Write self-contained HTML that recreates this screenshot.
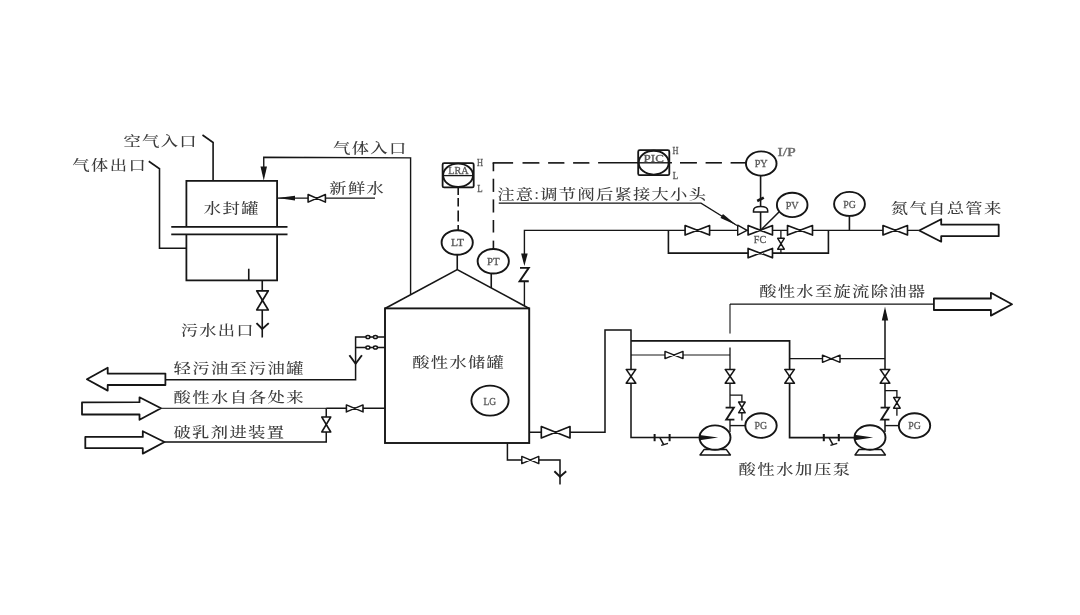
<!DOCTYPE html>
<html lang="zh-CN">
<head>
<meta charset="utf-8">
<title>酸性水储罐流程图</title>
<style>
html,body{margin:0;padding:0;background:#fff;}
body{width:1080px;height:615px;overflow:hidden;}
svg{display:block;}
text.c{font-family:"Liberation Serif","Noto Serif CJK SC",serif;font-weight:500;}
text.l{font-family:"Liberation Serif","Noto Serif CJK SC",serif;font-weight:400;}
</style>
</head>
<body>
<svg width="1080" height="615" viewBox="0 0 1080 615">
<defs><filter id="soft" x="0" y="0" width="1080" height="615" filterUnits="userSpaceOnUse"><feGaussianBlur stdDeviation="0.55"/></filter></defs>
<rect x="0" y="0" width="1080" height="615" fill="#ffffff"/>
<g filter="url(#soft)">
<polyline points="186.40,226.90 186.40,180.80 277.10,180.80 277.10,226.90" fill="none" stroke="#141414" stroke-width="1.8" stroke-linejoin="miter" />
<polyline points="186.40,234.40 186.40,280.40 277.10,280.40 277.10,234.40" fill="none" stroke="#141414" stroke-width="1.8" stroke-linejoin="miter" />
<polyline points="171.25,226.90 287.50,226.90" fill="none" stroke="#141414" stroke-width="1.6" stroke-linejoin="miter" />
<polyline points="171.25,234.40 287.50,234.40" fill="none" stroke="#141414" stroke-width="1.6" stroke-linejoin="miter" />
<polyline points="248.75,268.75 248.75,280.40" fill="none" stroke="#141414" stroke-width="1.6" stroke-linejoin="miter" />
<polyline points="202.50,135.00 213.10,142.50 213.10,180.80" fill="none" stroke="#141414" stroke-width="1.6" stroke-linejoin="miter" />
<polyline points="148.75,161.25 159.50,168.75 159.50,248.25 186.40,248.25" fill="none" stroke="#141414" stroke-width="1.6" stroke-linejoin="miter" />
<polyline points="263.75,170.00 263.75,157.30 410.60,157.90 410.60,294.50" fill="none" stroke="#141414" stroke-width="1.4" stroke-linejoin="miter" />
<polygon points="263.75,180.60 260.50,166.60 267.00,166.60" fill="#141414" stroke="none"/>
<polyline points="278.00,198.10 375.00,198.10" fill="none" stroke="#141414" stroke-width="1.3" stroke-linejoin="miter" />
<polygon points="277.60,198.10 295.00,195.80 295.00,200.40" fill="#141414" stroke="none"/>
<polygon points="308.10,194.50 325.40,202.10 325.40,194.50 308.10,202.10" fill="#fff" stroke="#141414" stroke-width="1.55" stroke-linejoin="round"/>
<polyline points="262.25,280.40 262.25,337.50" fill="none" stroke="#141414" stroke-width="1.6" stroke-linejoin="miter" />
<polygon points="256.70,290.80 268.30,310.00 256.70,310.00 268.30,290.80" fill="#fff" stroke="#141414" stroke-width="1.65" stroke-linejoin="round"/>
<polyline points="256.50,323.10 262.25,329.00 268.75,323.10" fill="none" stroke="#141414" stroke-width="1.9" stroke-linejoin="miter" />
<polygon points="86.90,379.30 107.70,367.70 107.70,373.60 165.40,373.60 165.40,385.00 107.70,385.00 107.70,390.60" fill="#fff" stroke="#141414" stroke-width="1.8" stroke-linejoin="round"/>
<polyline points="165.50,379.80 355.60,379.80 355.60,337.00 385.00,337.00" fill="none" stroke="#141414" stroke-width="1.5" stroke-linejoin="miter" />
<polyline points="355.60,347.50 385.00,347.50" fill="none" stroke="#141414" stroke-width="1.5" stroke-linejoin="miter" />
<polyline points="349.40,355.25 355.60,363.75 361.90,355.25" fill="none" stroke="#141414" stroke-width="1.9" stroke-linejoin="miter" />
<ellipse cx="367.90" cy="337.00" rx="2.00" ry="1.60" fill="#fff" stroke="#141414" stroke-width="1.5"/>
<ellipse cx="375.40" cy="337.00" rx="2.00" ry="1.60" fill="#fff" stroke="#141414" stroke-width="1.5"/>
<ellipse cx="367.90" cy="347.50" rx="2.00" ry="1.60" fill="#fff" stroke="#141414" stroke-width="1.5"/>
<ellipse cx="375.40" cy="347.50" rx="2.00" ry="1.60" fill="#fff" stroke="#141414" stroke-width="1.5"/>
<polygon points="82.00,402.40 139.50,402.20 139.50,397.30 161.00,408.30 139.50,419.80 139.50,414.30 82.00,414.50" fill="#fff" stroke="#141414" stroke-width="1.8" stroke-linejoin="round"/>
<polyline points="161.25,408.30 326.25,408.30" fill="none" stroke="#141414" stroke-width="1.0" stroke-linejoin="miter" />
<polyline points="326.25,408.30 385.00,408.30" fill="none" stroke="#141414" stroke-width="1.4" stroke-linejoin="miter" />
<polygon points="346.40,404.90 363.00,411.90 363.00,404.90 346.40,411.90" fill="#fff" stroke="#141414" stroke-width="1.55" stroke-linejoin="round"/>
<polyline points="164.50,442.00 326.25,442.00 326.25,408.30" fill="none" stroke="#141414" stroke-width="1.5" stroke-linejoin="miter" />
<polygon points="321.75,417.00 330.75,432.00 321.75,432.00 330.75,417.00" fill="#fff" stroke="#141414" stroke-width="1.55" stroke-linejoin="round"/>
<polygon points="85.30,436.90 142.80,436.90 142.80,431.20 164.50,442.00 142.80,453.60 142.80,448.20 85.30,448.20" fill="#fff" stroke="#141414" stroke-width="1.8" stroke-linejoin="round"/>
<rect x="385.00" y="308.40" width="144.20" height="134.60" rx="0" fill="none" stroke="#141414" stroke-width="1.9"/>
<polyline points="385.00,308.40 457.25,269.60 529.20,308.40" fill="none" stroke="#141414" stroke-width="1.7" stroke-linejoin="miter" />
<ellipse cx="490.00" cy="400.60" rx="18.60" ry="15.00" fill="#fff" stroke="#141414" stroke-width="1.9"/>
<polyline points="457.25,255.00 457.25,269.60" fill="none" stroke="#141414" stroke-width="1.6" stroke-linejoin="miter" />
<ellipse cx="457.20" cy="242.50" rx="15.60" ry="12.30" fill="#fff" stroke="#141414" stroke-width="1.9"/>
<polyline points="491.25,273.50 491.25,288.00" fill="none" stroke="#141414" stroke-width="1.6" stroke-linejoin="miter" />
<ellipse cx="493.25" cy="261.25" rx="15.60" ry="12.30" fill="#fff" stroke="#141414" stroke-width="1.9"/>
<rect x="442.60" y="163.20" width="31.10" height="24.20" rx="1.5" fill="#fff" stroke="#141414" stroke-width="1.8"/>
<ellipse cx="458.10" cy="175.30" rx="15.00" ry="11.70" fill="none" stroke="#141414" stroke-width="1.9"/>
<polyline points="443.00,175.60 473.50,175.60" fill="none" stroke="#141414" stroke-width="1.3" stroke-linejoin="miter" />
<polyline points="458.20,188.00 458.20,195.00" fill="none" stroke="#141414" stroke-width="1.6" stroke-linejoin="miter" />
<polyline points="458.20,198.10 458.20,206.50" fill="none" stroke="#141414" stroke-width="1.6" stroke-linejoin="miter" />
<polyline points="458.20,210.60 458.20,221.50" fill="none" stroke="#141414" stroke-width="1.6" stroke-linejoin="miter" />
<polyline points="458.20,225.00 458.20,230.30" fill="none" stroke="#141414" stroke-width="1.6" stroke-linejoin="miter" />
<polyline points="493.40,162.90 493.40,171.25" fill="none" stroke="#141414" stroke-width="1.6" stroke-linejoin="miter" />
<polyline points="493.40,178.75 493.40,191.90" fill="none" stroke="#141414" stroke-width="1.6" stroke-linejoin="miter" />
<polyline points="493.40,199.40 493.40,212.50" fill="none" stroke="#141414" stroke-width="1.6" stroke-linejoin="miter" />
<polyline points="493.40,220.00 493.40,232.50" fill="none" stroke="#141414" stroke-width="1.6" stroke-linejoin="miter" />
<polyline points="493.40,240.60 493.40,249.00" fill="none" stroke="#141414" stroke-width="1.6" stroke-linejoin="miter" />
<polyline points="492.60,162.90 513.10,162.90" fill="none" stroke="#141414" stroke-width="1.6" stroke-linejoin="miter" />
<polyline points="522.50,162.90 539.40,162.90" fill="none" stroke="#141414" stroke-width="1.6" stroke-linejoin="miter" />
<polyline points="548.10,162.90 564.40,162.90" fill="none" stroke="#141414" stroke-width="1.6" stroke-linejoin="miter" />
<polyline points="573.10,162.90 589.40,162.90" fill="none" stroke="#141414" stroke-width="1.6" stroke-linejoin="miter" />
<polyline points="598.10,162.80 671.90,162.80" fill="none" stroke="#141414" stroke-width="1.6" stroke-linejoin="miter" />
<polyline points="680.00,162.80 696.90,162.80" fill="none" stroke="#141414" stroke-width="1.6" stroke-linejoin="miter" />
<polyline points="705.60,162.80 721.90,162.80" fill="none" stroke="#141414" stroke-width="1.6" stroke-linejoin="miter" />
<polyline points="730.60,162.80 746.00,162.80" fill="none" stroke="#141414" stroke-width="1.6" stroke-linejoin="miter" />
<rect x="638.20" y="150.20" width="31.10" height="25.00" rx="1.5" fill="#fff" stroke="#141414" stroke-width="1.8"/>
<ellipse cx="653.70" cy="162.70" rx="15.00" ry="11.90" fill="none" stroke="#141414" stroke-width="1.9"/>
<polyline points="638.00,162.80 670.00,162.80" fill="none" stroke="#141414" stroke-width="1.4" stroke-linejoin="miter" />
<polyline points="760.60,175.00 760.60,230.30" fill="none" stroke="#141414" stroke-width="1.6" stroke-linejoin="miter" />
<ellipse cx="761.25" cy="163.50" rx="15.30" ry="12.10" fill="#fff" stroke="#141414" stroke-width="1.9"/>
<polyline points="524.40,256.00 524.40,230.40 737.50,230.40" fill="none" stroke="#141414" stroke-width="1.4" stroke-linejoin="miter" />
<polygon points="524.40,266.00 521.10,253.50 527.70,253.50" fill="#141414" stroke="none"/>
<polyline points="520.00,267.90 528.75,267.90 519.60,281.25 528.75,281.25" fill="none" stroke="#141414" stroke-width="1.9" stroke-linejoin="miter" />
<polyline points="524.40,281.25 524.40,306.00" fill="none" stroke="#141414" stroke-width="1.4" stroke-linejoin="miter" />
<polyline points="668.40,230.40 668.40,253.10 828.40,253.10 828.40,230.40" fill="none" stroke="#141414" stroke-width="1.6" stroke-linejoin="miter" />
<polyline points="737.50,230.40 918.75,230.40" fill="none" stroke="#141414" stroke-width="1.4" stroke-linejoin="miter" />
<polygon points="685.10,225.55 709.60,235.05 709.60,225.55 685.10,235.05" fill="#fff" stroke="#141414" stroke-width="1.65" stroke-linejoin="round"/>
<polyline points="498.75,203.20 701.00,203.20 737.00,225.60" fill="none" stroke="#141414" stroke-width="1.2" stroke-linejoin="miter" />
<polygon points="736.60,225.30 720.53,218.01 722.96,214.10" fill="#141414" stroke="none"/>
<polygon points="737.70,225.20 747.00,230.30 737.70,235.20" fill="#fff" stroke="#141414" stroke-width="1.4" stroke-linejoin="round"/>
<polygon points="748.10,225.60 772.50,235.00 772.50,225.60 748.10,235.00" fill="#fff" stroke="#141414" stroke-width="1.65" stroke-linejoin="round"/>
<polyline points="757.20,201.00 763.80,197.60" fill="none" stroke="#141414" stroke-width="2.6" stroke-linejoin="miter" />
<path d="M753.5,211.9 L753.5,210.4 Q753.5,206.4 760.6,206.4 Q767.7,206.4 767.7,210.4 L767.7,211.9 Z" fill="#fff" stroke="#141414" stroke-width="1.5"/>
<polyline points="760.60,230.30 779.50,211.50" fill="none" stroke="#141414" stroke-width="1.5" stroke-linejoin="miter" />
<ellipse cx="792.20" cy="204.90" rx="15.30" ry="12.20" fill="#fff" stroke="#141414" stroke-width="1.9"/>
<polyline points="780.90,230.40 780.90,253.10" fill="none" stroke="#141414" stroke-width="1.3" stroke-linejoin="miter" />
<polygon points="777.70,238.30 784.30,249.20 777.70,249.20 784.30,238.30" fill="#fff" stroke="#141414" stroke-width="1.45" stroke-linejoin="round"/>
<polygon points="787.50,225.50 812.50,235.10 812.50,225.50 787.50,235.10" fill="#fff" stroke="#141414" stroke-width="1.65" stroke-linejoin="round"/>
<polygon points="748.10,248.40 772.50,257.80 772.50,248.40 748.10,257.80" fill="#fff" stroke="#141414" stroke-width="1.65" stroke-linejoin="round"/>
<polyline points="849.40,216.00 849.40,230.40" fill="none" stroke="#141414" stroke-width="1.6" stroke-linejoin="miter" />
<ellipse cx="849.50" cy="203.90" rx="15.40" ry="12.00" fill="#fff" stroke="#141414" stroke-width="1.9"/>
<polygon points="883.00,225.60 907.50,235.00 907.50,225.60 883.00,235.00" fill="#fff" stroke="#141414" stroke-width="1.65" stroke-linejoin="round"/>
<polygon points="919.20,230.50 941.20,219.20 941.20,224.60 998.70,224.60 998.70,236.20 941.20,236.20 941.20,241.70" fill="#fff" stroke="#141414" stroke-width="1.8" stroke-linejoin="round"/>
<polyline points="529.20,432.20 605.00,432.20 605.00,330.00 631.00,330.00 631.00,437.60 699.40,437.60" fill="none" stroke="#141414" stroke-width="1.5" stroke-linejoin="miter" />
<polygon points="541.30,426.50 570.00,437.90 570.00,426.50 541.30,437.90" fill="#fff" stroke="#141414" stroke-width="1.65" stroke-linejoin="round"/>
<polyline points="507.40,443.00 507.40,460.00 560.00,460.00 560.00,484.50" fill="none" stroke="#141414" stroke-width="1.5" stroke-linejoin="miter" />
<polygon points="521.80,456.40 538.80,463.60 538.80,456.40 521.80,463.60" fill="#fff" stroke="#141414" stroke-width="1.45" stroke-linejoin="round"/>
<polyline points="554.40,471.20 560.00,476.60 566.20,471.20" fill="none" stroke="#141414" stroke-width="1.9" stroke-linejoin="miter" />
<polyline points="631.00,340.80 789.60,340.80 789.60,437.60 855.00,437.60" fill="none" stroke="#141414" stroke-width="1.7" stroke-linejoin="miter" />
<polyline points="631.00,355.00 730.00,355.00" fill="none" stroke="#141414" stroke-width="1.0" stroke-linejoin="miter" />
<polygon points="665.00,351.40 683.00,358.60 683.00,351.40 665.00,358.60" fill="#fff" stroke="#141414" stroke-width="1.45" stroke-linejoin="round"/>
<polyline points="730.00,432.00 730.00,347.50" fill="none" stroke="#141414" stroke-width="1.3" stroke-linejoin="miter" />
<polyline points="730.00,333.50 730.00,304.10" fill="none" stroke="#141414" stroke-width="1.1" stroke-linejoin="miter" />
<polyline points="730.00,304.10 933.90,304.10" fill="none" stroke="#141414" stroke-width="1.3" stroke-linejoin="miter" />
<polyline points="885.00,432.00 885.00,318.00" fill="none" stroke="#141414" stroke-width="1.5" stroke-linejoin="miter" />
<polygon points="885.00,306.80 881.80,320.60 888.20,320.60" fill="#141414" stroke="none"/>
<polyline points="789.60,358.60 885.00,358.60" fill="none" stroke="#141414" stroke-width="1.4" stroke-linejoin="miter" />
<polygon points="822.50,355.10 840.00,362.30 840.00,355.10 822.50,362.30" fill="#fff" stroke="#141414" stroke-width="1.45" stroke-linejoin="round"/>
<polygon points="933.90,298.50 990.90,298.50 990.90,292.80 1012.00,304.20 990.90,315.60 990.90,310.00 933.90,310.00" fill="#fff" stroke="#141414" stroke-width="1.8" stroke-linejoin="round"/>
<polygon points="704.00,449.60 700.00,455.00 730.40,455.00 726.40,449.60" fill="#fff" stroke="#141414" stroke-width="1.5" stroke-linejoin="round"/>
<ellipse cx="715.00" cy="437.60" rx="15.50" ry="12.20" fill="#fff" stroke="#141414" stroke-width="1.9"/>
<polygon points="699.40,434.90 718.20,437.60 699.40,440.30" fill="#141414" stroke="none"/>
<polygon points="725.20,369.40 734.80,383.30 725.20,383.30 734.80,369.40" fill="#fff" stroke="#141414" stroke-width="1.55" stroke-linejoin="round"/>
<polyline points="730.00,395.20 741.90,395.20 741.90,420.40" fill="none" stroke="#141414" stroke-width="1.3" stroke-linejoin="miter" />
<polygon points="738.60,402.00 745.20,412.80 738.60,412.80 745.20,402.00" fill="#fff" stroke="#141414" stroke-width="1.45" stroke-linejoin="round"/>
<rect x="728" y="407.5" width="4" height="12.3" fill="#fff"/>
<polyline points="725.60,407.60 733.90,407.60 726.20,419.70 734.40,419.70" fill="none" stroke="#141414" stroke-width="1.8" stroke-linejoin="miter" />
<polyline points="730.00,425.60 746.00,425.60" fill="none" stroke="#141414" stroke-width="1.4" stroke-linejoin="miter" />
<ellipse cx="761.00" cy="425.60" rx="15.70" ry="12.30" fill="#fff" stroke="#141414" stroke-width="1.9"/>
<polygon points="859.00,449.50 855.00,454.90 885.40,454.90 881.40,449.50" fill="#fff" stroke="#141414" stroke-width="1.5" stroke-linejoin="round"/>
<ellipse cx="870.00" cy="437.50" rx="15.50" ry="12.20" fill="#fff" stroke="#141414" stroke-width="1.9"/>
<polygon points="854.40,434.80 873.20,437.50 854.40,440.20" fill="#141414" stroke="none"/>
<polygon points="880.20,369.40 889.80,383.30 880.20,383.30 889.80,369.40" fill="#fff" stroke="#141414" stroke-width="1.55" stroke-linejoin="round"/>
<polyline points="885.00,390.60 896.90,390.60 896.90,415.80" fill="none" stroke="#141414" stroke-width="1.3" stroke-linejoin="miter" />
<polygon points="893.60,397.40 900.20,408.20 893.60,408.20 900.20,397.40" fill="#fff" stroke="#141414" stroke-width="1.45" stroke-linejoin="round"/>
<rect x="883" y="407.5" width="4" height="12.3" fill="#fff"/>
<polyline points="880.60,407.60 888.90,407.60 881.20,419.70 889.40,419.70" fill="none" stroke="#141414" stroke-width="1.8" stroke-linejoin="miter" />
<polyline points="885.00,425.60 899.50,425.60" fill="none" stroke="#141414" stroke-width="1.4" stroke-linejoin="miter" />
<ellipse cx="914.50" cy="425.60" rx="15.70" ry="12.30" fill="#fff" stroke="#141414" stroke-width="1.9"/>
<polyline points="654.60,434.00 654.60,441.20" fill="none" stroke="#141414" stroke-width="2.0" stroke-linejoin="miter" />
<polyline points="669.60,434.00 669.60,441.20" fill="none" stroke="#141414" stroke-width="2.0" stroke-linejoin="miter" />
<polyline points="660.00,437.80 663.80,444.80" fill="none" stroke="#141414" stroke-width="1.5" stroke-linejoin="miter" />
<polyline points="661.20,445.40 668.00,443.40" fill="none" stroke="#141414" stroke-width="1.5" stroke-linejoin="miter" />
<polyline points="823.80,434.00 823.80,441.20" fill="none" stroke="#141414" stroke-width="2.0" stroke-linejoin="miter" />
<polyline points="838.80,434.00 838.80,441.20" fill="none" stroke="#141414" stroke-width="2.0" stroke-linejoin="miter" />
<polyline points="829.20,437.80 833.00,444.80" fill="none" stroke="#141414" stroke-width="1.5" stroke-linejoin="miter" />
<polyline points="830.40,445.40 837.20,443.40" fill="none" stroke="#141414" stroke-width="1.5" stroke-linejoin="miter" />
<polygon points="626.20,369.40 635.80,383.30 626.20,383.30 635.80,369.40" fill="#fff" stroke="#141414" stroke-width="1.55" stroke-linejoin="round"/>
<polygon points="784.80,369.40 794.40,383.30 784.80,383.30 794.40,369.40" fill="#fff" stroke="#141414" stroke-width="1.55" stroke-linejoin="round"/>
<text class="c" transform="translate(123.40,145.50) scale(1.22,1)" x="0" y="0" font-size="14.2" letter-spacing="1.085" fill="#3a3a3a">空气入口</text>
<text class="c" transform="translate(72.20,170.30) scale(1.22,1)" x="0" y="0" font-size="14.2" letter-spacing="1.221" fill="#3a3a3a">气体出口</text>
<text class="c" transform="translate(203.80,212.50) scale(1.22,1)" x="0" y="0" font-size="14.2" letter-spacing="1.145" fill="#3a3a3a">水封罐</text>
<text class="c" transform="translate(329.20,192.80) scale(1.22,1)" x="0" y="0" font-size="14.2" letter-spacing="1.145" fill="#3a3a3a">新鲜水</text>
<text class="c" transform="translate(333.10,152.50) scale(1.22,1)" x="0" y="0" font-size="14.2" letter-spacing="1.085" fill="#3a3a3a">气体入口</text>
<rect x="328" y="133" width="82" height="7.7" fill="#fff"/>
<text class="c" transform="translate(180.80,335.30) scale(1.22,1)" x="0" y="0" font-size="14.2" letter-spacing="0.948" fill="#3a3a3a">污水出口</text>
<text class="c" transform="translate(173.40,373.30) scale(1.22,1)" x="0" y="0" font-size="14.2" letter-spacing="1.229" fill="#3a3a3a">轻污油至污油罐</text>
<text class="c" transform="translate(173.40,401.90) scale(1.22,1)" x="0" y="0" font-size="14.2" letter-spacing="1.229" fill="#3a3a3a">酸性水自各处来</text>
<text class="c" transform="translate(173.40,436.90) scale(1.22,1)" x="0" y="0" font-size="14.2" letter-spacing="1.118" fill="#3a3a3a">破乳剂进装置</text>
<text class="c" transform="translate(412.20,366.90) scale(1.22,1)" x="0" y="0" font-size="14.2" letter-spacing="1.055" fill="#3a3a3a">酸性水储罐</text>
<text class="c" transform="translate(497.20,199.10) scale(1.22,1)" x="0" y="0" font-size="14.2" letter-spacing="1.007" fill="#3a3a3a">注意:调节阀后紧接大小头</text>
<text class="c" transform="translate(890.80,213.00) scale(1.22,1)" x="0" y="0" font-size="14.2" letter-spacing="1.086" fill="#3a3a3a">氮气自总管来</text>
<rect x="886" y="194" width="120" height="6.7" fill="#fff"/>
<text class="c" transform="translate(759.20,295.80) scale(1.22,1)" x="0" y="0" font-size="14.2" letter-spacing="1.040" fill="#3a3a3a">酸性水至旋流除油器</text>
<text class="c" transform="translate(738.40,474.10) scale(1.22,1)" x="0" y="0" font-size="14.2" letter-spacing="1.282" fill="#3a3a3a">酸性水加压泵</text>
<text class="l" stroke="#585858" stroke-width="0.3" x="451.00" y="246.40" font-size="11" textLength="13.00" lengthAdjust="spacingAndGlyphs" fill="#585858">LT</text>
<text class="l" stroke="#585858" stroke-width="0.3" x="487.00" y="265.20" font-size="11" textLength="12.60" lengthAdjust="spacingAndGlyphs" fill="#585858">PT</text>
<text class="l" stroke="#585858" stroke-width="0.3" x="483.60" y="404.60" font-size="10.5" textLength="12.60" lengthAdjust="spacingAndGlyphs" fill="#585858">LG</text>
<text class="l" stroke="#585858" stroke-width="0.3" x="448.30" y="174.20" font-size="10.5" textLength="20.20" lengthAdjust="spacingAndGlyphs" fill="#585858">LRA</text>
<text class="l" stroke="#585858" stroke-width="0.3" x="643.60" y="161.60" font-size="10.5" textLength="20.20" lengthAdjust="spacingAndGlyphs" fill="#585858">PIC</text>
<text class="l" stroke="#585858" stroke-width="0.3" x="477.00" y="166.20" font-size="10.5" textLength="6.00" lengthAdjust="spacingAndGlyphs" fill="#585858">H</text>
<text class="l" stroke="#585858" stroke-width="0.3" x="477.20" y="192.00" font-size="10" textLength="5.40" lengthAdjust="spacingAndGlyphs" fill="#585858">L</text>
<text class="l" stroke="#585858" stroke-width="0.3" x="672.60" y="153.60" font-size="10.5" textLength="6.00" lengthAdjust="spacingAndGlyphs" fill="#585858">H</text>
<text class="l" stroke="#585858" stroke-width="0.3" x="672.80" y="179.40" font-size="10" textLength="5.40" lengthAdjust="spacingAndGlyphs" fill="#585858">L</text>
<text class="l" stroke="#585858" stroke-width="0.3" x="754.70" y="167.10" font-size="11" textLength="13.00" lengthAdjust="spacingAndGlyphs" fill="#585858">PY</text>
<text class="l" stroke="#6a6a6a" stroke-width="0.3" x="777.40" y="155.60" font-size="11.5" textLength="18.40" lengthAdjust="spacingAndGlyphs" fill="#6a6a6a">I/P</text>
<text class="l" stroke="#585858" stroke-width="0.3" x="785.70" y="208.60" font-size="11" textLength="13.00" lengthAdjust="spacingAndGlyphs" fill="#585858">PV</text>
<text class="l" stroke="#585858" stroke-width="0.3" x="843.20" y="207.60" font-size="11" textLength="12.60" lengthAdjust="spacingAndGlyphs" fill="#585858">PG</text>
<text class="l" stroke="#585858" stroke-width="0.3" x="753.80" y="243.20" font-size="10.5" textLength="12.40" lengthAdjust="spacingAndGlyphs" fill="#585858">FC</text>
<text class="l" stroke="#585858" stroke-width="0.3" x="754.60" y="429.40" font-size="11" textLength="12.60" lengthAdjust="spacingAndGlyphs" fill="#585858">PG</text>
<text class="l" stroke="#585858" stroke-width="0.3" x="908.20" y="429.40" font-size="11" textLength="12.60" lengthAdjust="spacingAndGlyphs" fill="#585858">PG</text>
</g>
</svg>
</body>
</html>
